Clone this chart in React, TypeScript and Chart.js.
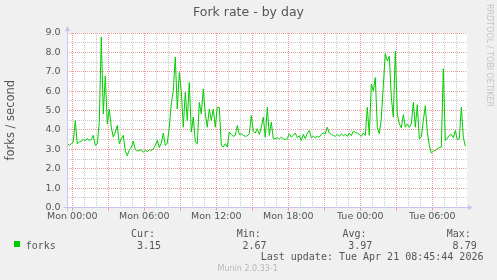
import React, { useEffect, useRef } from 'react';
import { Chart, registerables } from 'chart.js';

Chart.register(...registerables);

// ---------- data ----------
const TITLE = 'Fork rate - by day';
const Y_TITLE = 'forks / second';
const SERIES_LABEL = 'forks';
const START_HOUR = -25 / 60; // Sun 23:35, hours relative to Mon 00:00
const STEP_MINUTES = 10;

const forks = [
  3.32, 3.2, 3.29, 3.38, 4.48, 3.29, 3.38, 3.43, 3.5, 3.46,
  3.55, 3.46, 3.5, 3.72, 3.2, 3.29, 4.37, 8.79, 4.83, 6.79,
  4.31, 5.08, 4.14, 3.63, 3.89, 4.23, 3.29, 3.55, 3.72, 2.91,
  2.67, 2.98, 3.09, 3.43, 2.98, 2.91, 2.95, 2.98, 2.85, 2.95,
  2.88, 2.98, 2.95, 3.02, 3.2, 3.46, 3.09, 3.32, 3.84, 3.2,
  3.32, 4.14, 5.34, 6.02, 7.76, 5.08, 6.96, 6.02, 4.14, 5.94,
  4.48, 6.45, 3.89, 4.66, 3.38, 3.29, 5.42, 4.83, 6.11, 4.83,
  4.14, 5.08, 4.48, 5.08, 4.14, 5.17, 5.17, 3.2, 3.12, 3.29,
  3.12, 3.89, 3.77, 3.67, 3.72, 4.23, 3.77, 3.8, 3.72, 3.67,
  3.7, 3.8, 4.74, 3.94, 3.84, 4.06, 3.77, 4.14, 4.66, 3.63,
  5.17, 3.72, 4.4, 3.55, 3.55, 3.6, 3.53, 3.63, 3.55, 3.5,
  3.56, 3.8, 3.63, 3.72, 3.84, 3.6, 3.7, 3.46, 3.77, 3.55,
  3.84, 3.97, 3.6, 3.67, 3.6, 3.67, 3.63, 3.77, 3.84, 3.8,
  4.14, 3.84, 3.77, 3.72, 3.67, 3.77, 3.67, 3.8, 3.7, 3.77,
  3.67, 3.84, 3.7, 3.94, 3.87, 3.84, 3.77, 3.67, 3.84, 3.72,
  5.17, 3.72, 6.36, 6.02, 6.7, 4.14, 3.8, 4.57, 6.28, 7.93,
  7.56, 7.8, 5.68, 4.66, 8.07, 4.83, 4.31, 4.11, 4.79, 4.14,
  4.31, 4.14, 4.31, 5.42, 4.14, 5.3, 3.55, 3.63, 4.48, 5.25,
  3.89, 3.2, 2.81, 2.91, 2.95, 3.02, 3.09, 3.12, 7.16, 3.46,
  3.58, 3.72, 3.77, 3.6, 3.97, 3.5, 3.55, 5.17, 3.63, 3.15,
];

const X_MIN = -0.44;
const X_MAX = 32.89;
const xTickHours = [0, 6, 12, 18, 24, 30];
const xTickLabels = ['Mon 00:00', 'Mon 06:00', 'Mon 12:00', 'Mon 18:00', 'Tue 00:00', 'Tue 06:00'];
const Y_MIN = 0;
const Y_MAX = 9;

const statLabels = ['Cur:', 'Min:', 'Avg:', 'Max:'];
const statValues = ['3.15', '2.67', '3.97', '8.79'];
const LAST_UPDATE = 'Last update: Tue Apr 21 08:45:44 2026';
const WATERMARK = 'RRDTOOL / TOBI OETIKER';
const FOOTER = 'Munin 2.0.33-1';

// ---------- style ----------
const W = 497;
const H = 280;
const LINE_COLOR = '#00cc00';
const MAJOR = '#f09a9a';
const MINOR = '#c6c6c6';
const AXIS = '#c4c4f2';
const TEXT = '#555555';
const SANS = "'DejaVu Sans', sans-serif";
const MONO = "'DejaVu Sans Mono', monospace";

const statLabelX = [131, 236.8, 342.5, 446.8];
const statValueX = [137, 242.4, 348.2, 452.6];

const plotDecor = {
  id: 'plotDecor',
  beforeDraw(chart: any) {
    const { ctx, chartArea } = chart;
    ctx.save();
    ctx.fillStyle = '#ffffff';
    ctx.fillRect(chartArea.left, chartArea.top, chartArea.right - chartArea.left, chartArea.bottom - chartArea.top);
    ctx.restore();
  },
  afterDraw(chart: any) {
    const { ctx, chartArea } = chart;
    const l = Math.round(chartArea.left) + 0.5;
    const b = Math.round(chartArea.bottom - 0.5) + 0.5;
    const r = chartArea.right;
    const t = chartArea.top;
    ctx.save();
    ctx.strokeStyle = AXIS;
    ctx.fillStyle = AXIS;
    ctx.lineWidth = 1;
    ctx.beginPath();
    ctx.moveTo(l, b + 4);
    ctx.lineTo(l, t - 3);
    ctx.moveTo(l - 4, b);
    ctx.lineTo(r + 1, b);
    ctx.stroke();
    ctx.beginPath();
    ctx.moveTo(l, t - 7);
    ctx.lineTo(l - 2.5, t - 2);
    ctx.lineTo(l + 2.5, t - 2);
    ctx.closePath();
    ctx.fill();
    ctx.beginPath();
    ctx.moveTo(r + 6, b);
    ctx.lineTo(r + 1, b - 2.5);
    ctx.lineTo(r + 1, b + 2.5);
    ctx.closePath();
    ctx.fill();
    ctx.restore();
  },
};

function txt(content: string, left: number, baseline: number, size: number, family: string, color: string, extra: any = {}) {
  return (
    <div
      style={{
        position: 'absolute',
        left,
        top: baseline - 0.846 * size,
        fontFamily: family,
        fontSize: size,
        lineHeight: `${size}px`,
        color,
        whiteSpace: 'pre',
        ...extra,
      }}
    >
      {content}
    </div>
  );
}

export default function App() {
  const ref = useRef<HTMLCanvasElement | null>(null);

  useEffect(() => {
    if (!ref.current) return;
    const points = forks.map((v, i) => ({ x: START_HOUR + (i * STEP_MINUTES) / 60, y: v }));
    const hourGrid: number[] = [];
    for (let h = Math.ceil(X_MIN); h <= Math.floor(X_MAX); h++) hourGrid.push(h);
    const halfGrid: number[] = [];
    for (let k = Y_MIN * 2; k <= Y_MAX * 2; k++) halfGrid.push(k / 2);

    const isMajorX = (c: any) => !!c.tick && Math.round(c.tick.value) % 3 === 0;
    const isMajorY = (c: any) => !!c.tick && Math.abs(c.tick.value - Math.round(c.tick.value)) < 1e-6;

    const chart = new Chart(ref.current, {
      type: 'line',
      data: {
        datasets: [
          {
            label: SERIES_LABEL,
            data: points,
            borderColor: LINE_COLOR,
            borderWidth: 1,
            pointRadius: 0,
            fill: false,
            tension: 0,
          },
        ],
      },
      options: {
        animation: false,
        responsive: false,
        devicePixelRatio: 1,
        events: [],
        layout: { padding: { top: 33, right: 30, left: 0, bottom: 0 } },
        plugins: {
          legend: { display: false },
          tooltip: { enabled: false },
          title: { display: false },
        },
        scales: {
          x: {
            type: 'linear',
            min: X_MIN,
            max: X_MAX,
            afterBuildTicks: (s: any) => {
              s.ticks = hourGrid.map((v) => ({ value: v }));
            },
            afterFit: (s: any) => {
              s.height = 72.5;
            },
            grid: {
              display: true,
              drawOnChartArea: true,
              color: (c: any) => (isMajorX(c) ? MAJOR : MINOR),
              lineWidth: 1,
              drawTicks: true,
              tickLength: 3,
              tickColor: (c: any) => (isMajorX(c) ? MAJOR : 'rgba(0,0,0,0)'),
            },
            border: { display: false, dash: [1, 1] },
            ticks: {
              autoSkip: false,
              maxRotation: 0,
              minRotation: 0,
              padding: 0,
              color: TEXT,
              font: { family: SANS, size: 9.5 },
              callback: (v: any) => {
                const k = xTickHours.indexOf(Number(v));
                return k >= 0 ? xTickLabels[k] : '';
              },
            },
          },
          y: {
            min: Y_MIN,
            max: Y_MAX,
            afterBuildTicks: (s: any) => {
              s.ticks = halfGrid.map((v) => ({ value: v }));
            },
            afterFit: (s: any) => {
              s.width = 67;
            },
            grid: {
              display: true,
              drawOnChartArea: true,
              color: (c: any) => (isMajorY(c) ? MAJOR : MINOR),
              lineWidth: 1,
              drawTicks: false,
            },
            border: { display: false, dash: [1, 1] },
            ticks: {
              autoSkip: false,
              padding: 6.5,
              color: TEXT,
              font: { family: SANS, size: 9.5 },
              callback: (v: any) => (Math.abs(Number(v) - Math.round(Number(v))) < 1e-6 ? Number(v).toFixed(1) : ''),
            },
            title: {
              display: true,
              text: Y_TITLE,
              color: TEXT,
              font: { family: SANS, size: 11.5 },
              padding: { top: 4, bottom: 0 },
            },
          },
        },
      },
      plugins: [plotDecor],
    } as any);
    return () => chart.destroy();
  }, []);

  return (
    <div style={{ position: 'fixed', left: 0, top: 0, width: W, height: H, background: '#f0f0f0', overflow: 'hidden' }}>
      <canvas ref={ref} width={W} height={H} style={{ position: 'absolute', left: 0, top: 0, width: W, height: H }} />
      {txt(TITLE, 0, 16.5, 12.5, SANS, TEXT, { width: W, textAlign: 'center' })}
      <div
        style={{
          position: 'absolute',
          left: 484.7,
          top: 4,
          writingMode: 'vertical-rl',
          fontFamily: SANS,
          fontSize: 8,
          lineHeight: '8px',
          color: '#c4c4c4',
          whiteSpace: 'pre',
        }}
      >
        {WATERMARK}
      </div>
      <div style={{ position: 'absolute', left: 14, top: 241, width: 6, height: 6, background: LINE_COLOR }} />
      {txt(SERIES_LABEL, 25.7, 249, 10, MONO, TEXT)}
      {statLabels.map((s, i) => (
        <React.Fragment key={s}>{txt(s, statLabelX[i], 237, 10, MONO, TEXT)}</React.Fragment>
      ))}
      {statValues.map((s, i) => (
        <React.Fragment key={'v' + i}>{txt(s, statValueX[i], 249, 10, MONO, TEXT)}</React.Fragment>
      ))}
      {txt(LAST_UPDATE, 260.7, 260.6, 10, MONO, TEXT)}
      {txt(FOOTER, 217.5, 272, 8, SANS, '#b8b8b8')}
    </div>
  );
}
